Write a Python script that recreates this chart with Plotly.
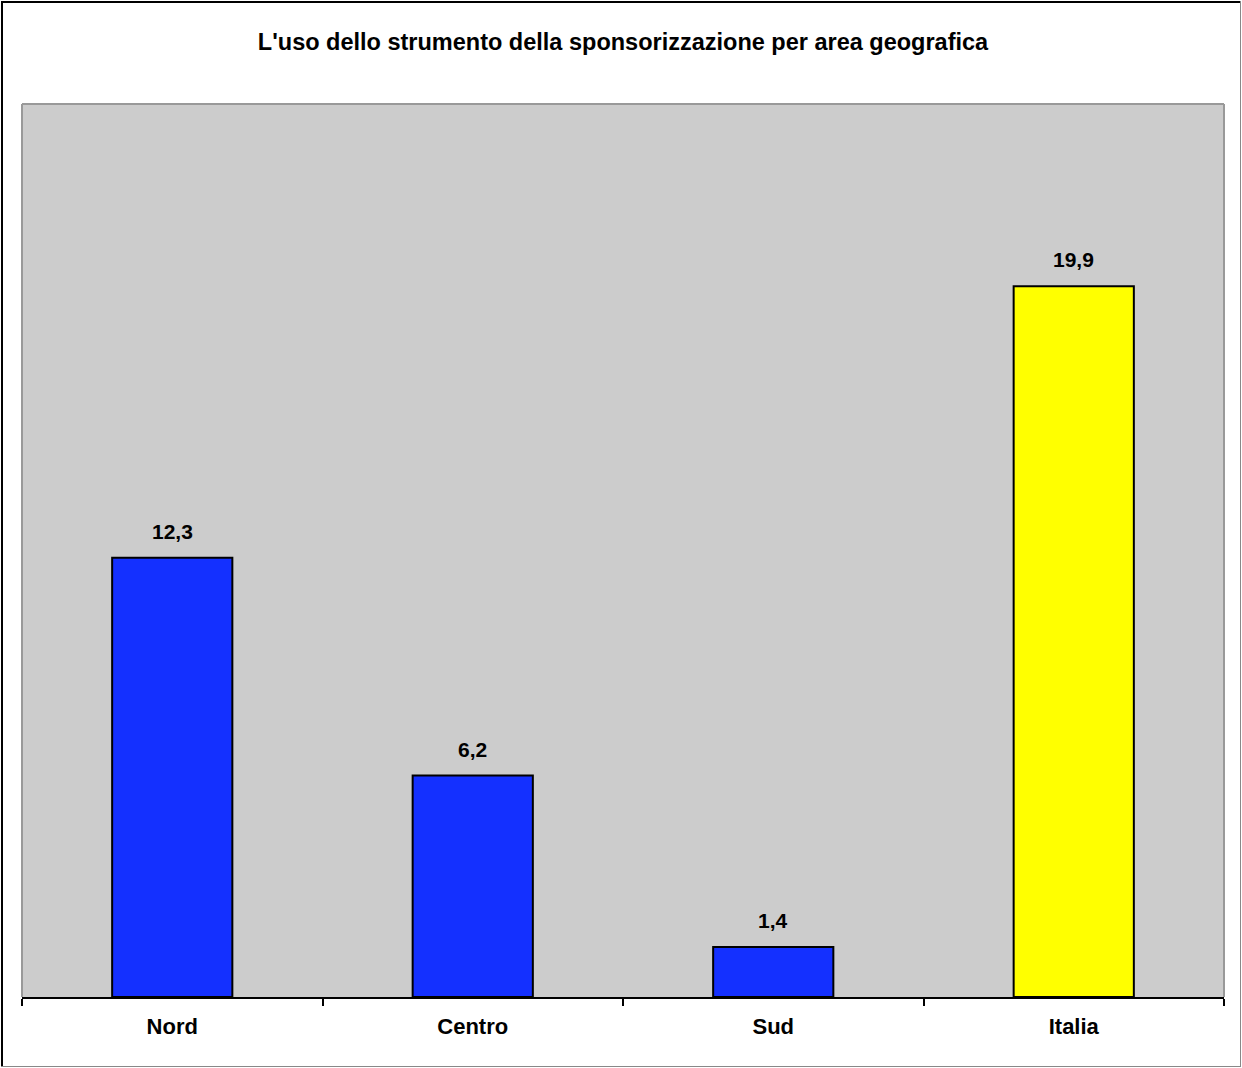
import plotly.graph_objects as go

categories = ["Nord", "Centro", "Sud", "Italia"]
values = [12.3, 6.2, 1.4, 19.9]
labels = ["12,3", "6,2", "1,4", "19,9"]
colors = ["#1430FF", "#1430FF", "#1430FF", "#FFFF00"]

W, H = 1242, 1068
L, R, T, B = 22, 18, 104, 71
pw, ph = W - L - R, H - T - B

FONT = "Liberation Sans, Arial, sans-serif"

fig = go.Figure(go.Bar(
    x=categories, y=values, width=0.4,
    marker=dict(color=colors, line=dict(color="black", width=2)),
    hoverinfo="skip",
))

for c, v, t in zip(categories, values, labels):
    fig.add_annotation(x=c, y=v, text=f"<b>{t}</b>", showarrow=False,
                       yanchor="bottom", yshift=13,
                       font=dict(family=FONT, size=21, color="black"))

def px_x(p):
    return (p - L) / pw

def px_y(p):
    return 1 - (p - T) / ph

# outer chart border
fig.add_shape(type="line", xref="paper", yref="paper",
              x0=px_x(2), x1=px_x(2), y0=px_y(1067), y1=px_y(1),
              line=dict(color="black", width=2))
fig.add_shape(type="line", xref="paper", yref="paper",
              x0=px_x(1), x1=px_x(1241), y0=px_y(2), y1=px_y(2),
              line=dict(color="black", width=2))
fig.add_shape(type="line", xref="paper", yref="paper",
              x0=px_x(1240.5), x1=px_x(1240.5), y0=px_y(1067), y1=px_y(1),
              line=dict(color="#888888", width=1))
fig.add_shape(type="line", xref="paper", yref="paper",
              x0=px_x(1), x1=px_x(1241), y0=px_y(1066.5), y1=px_y(1066.5),
              line=dict(color="#888888", width=1))

fig.update_layout(
    width=W, height=H,
    margin=dict(l=L, r=R, t=T, b=B),
    paper_bgcolor="white",
    plot_bgcolor="#CCCCCC",
    showlegend=False,
    title=dict(text="<b>L'uso dello strumento della sponsorizzazione per area geografica</b>",
               x=0.5, xref="paper", xanchor="center", y=1 - 42 / H, yanchor="middle",
               font=dict(family=FONT, size=23.5, color="black")),
    xaxis=dict(showgrid=False, tickson="boundaries", ticks="outside", ticklen=7,
               tickcolor="black", tickwidth=2, showline=True, linecolor="black", linewidth=2,
               tickfont=dict(family=FONT, size=22, color="black"),
               ticklabelstandoff=9,
               tickvals=categories, ticktext=[f"<b>{c}</b>" for c in categories]),
    yaxis=dict(range=[0, 25], showgrid=False, showticklabels=False, zeroline=False,
               showline=False, fixedrange=True),
)

# gray plot frame (top, left, right)
for (x0, x1, y0, y1) in [(0, 1, 1, 1), (0, 0, 0, 1), (1, 1, 0, 1)]:
    fig.add_shape(type="line", xref="paper", yref="paper", x0=x0, x1=x1, y0=y0, y1=y1,
                  line=dict(color="#999999", width=2))

fig.write_html("out.html",
               config={"displayModeBar": False},
               post_script="document.body.style.margin='0';document.body.style.padding='0';")
